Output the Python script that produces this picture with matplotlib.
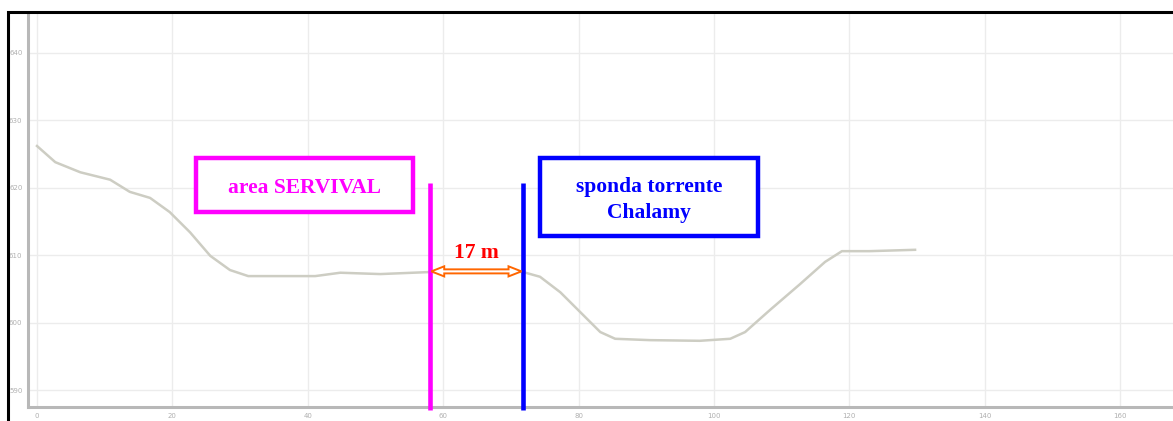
import matplotlib
matplotlib.use("Agg")
import matplotlib.pyplot as plt
from matplotlib.patches import Rectangle, Polygon

# Terrain profile: distance (m) vs elevation (m)
distance = [0, 2.7, 6.4, 10.8, 13.7, 16.7, 19.6, 22.6, 25.6, 28.5, 31.2, 35.9, 41.1,
            44.8, 50.7, 58.0, 68.4, 71.8, 74.3, 77.3, 80.2, 83.2, 85.4, 90.5, 97.9,
            102.4, 104.6, 108.3, 112.7, 116.4, 118.9, 123.0, 129.7]
elevation = [626.2, 623.8, 622.3, 621.2, 619.4, 618.5, 616.4, 613.4, 609.9, 607.8, 606.9,
             606.9, 606.9, 607.4, 607.2, 607.5, 607.7, 607.5, 606.8, 604.5, 601.6, 598.6,
             597.6, 597.4, 597.3, 597.6, 598.6, 601.9, 605.7, 609.0, 610.6, 610.6, 610.8]

x_ticks = [0, 20, 40, 60, 80, 100, 120, 140, 160]
y_ticks = [590, 600, 610, 620, 630, 640]

area_x = 58.0        # edge of the SERVIVAL area
bank_x = 71.8        # bank of the Chalamy stream
marker_top = 620.7
arrow_y = 607.6
gap_label = "17 m"

W, H = 1173, 421
fig = plt.figure(figsize=(W / 100, H / 100), dpi=100)
ax = fig.add_axes([28 / W, 1 - 407 / H, 1 - 28 / W, (407 - 13) / H])

ax.set_xlim(-1.33, 167.8)
ax.set_ylim(587.48, 645.93)
ax.set_xticks(x_ticks)
ax.set_yticks(y_ticks)
ax.grid(True, color="#ececec", linewidth=1)
ax.set_axisbelow(True)
ax.tick_params(labelsize=5, colors="#b0b0b0", length=0, pad=4)
for s in ("top", "right"):
    ax.spines[s].set_visible(False)
for s in ("left", "bottom"):
    ax.spines[s].set_color("#b8b8b8")
    ax.spines[s].set_linewidth(2.2)

ax.plot(distance, elevation, color="#cdcdc3", linewidth=1.8, zorder=2)

# Vertical markers
ax.plot([area_x, area_x], [587.0, marker_top], color="#ff00ff", linewidth=3.3,
        solid_capstyle="butt", clip_on=False, zorder=4)
ax.plot([bank_x, bank_x], [587.0, marker_top], color="#0000ff", linewidth=3.3,
        solid_capstyle="butt", clip_on=False, zorder=4)

# Hollow double-headed arrow between the markers
x0, x1 = area_x + 0.25, bank_x - 0.25
hl, hw, sw = 1.9, 0.75, 0.3
arrow_pts = [
    (x0, arrow_y), (x0 + hl, arrow_y + hw), (x0 + hl, arrow_y + sw),
    (x1 - hl, arrow_y + sw), (x1 - hl, arrow_y + hw), (x1, arrow_y),
    (x1 - hl, arrow_y - hw), (x1 - hl, arrow_y - sw), (x0 + hl, arrow_y - sw),
    (x0 + hl, arrow_y - hw),
]
ax.add_patch(Polygon(arrow_pts, closed=True, facecolor="white", edgecolor="#ff6600",
                     linewidth=1.4, zorder=5))
ax.text((area_x + bank_x) / 2, arrow_y + 1.3, gap_label, color="#ff0000",
        fontsize=15.5, fontweight="bold", family="Liberation Serif",
        ha="center", va="bottom", zorder=6)

# Label boxes (figure pixel layout)
def label_box(x0p, y0p, x1p, y1p, text, color):
    fig.patches.append(Rectangle((x0p / W, 1 - y1p / H), (x1p - x0p) / W, (y1p - y0p) / H,
                                 transform=fig.transFigure, facecolor="white",
                                 edgecolor=color, linewidth=3.2, zorder=10))
    fig.text((x0p + x1p) / 2 / W, 1 - ((y0p + y1p) / 2 + 3) / H, text, color=color,
             fontsize=15.5, fontweight="bold", family="Liberation Serif",
             ha="center", va="center", linespacing=1.4, zorder=11)

label_box(196, 158, 413, 212, "area SERVIVAL", "#ff00ff")
label_box(540, 158, 758, 236, "sponda torrente\nChalamy", "#0000ff")

# Outer black frame
fig.patches.append(Rectangle((8 / W, -0.05), 1.1, 1 - 12 / H + 0.05, transform=fig.transFigure,
                             fill=False, edgecolor="black", linewidth=2.2, zorder=20))

fig.savefig("out.png", dpi=100)
